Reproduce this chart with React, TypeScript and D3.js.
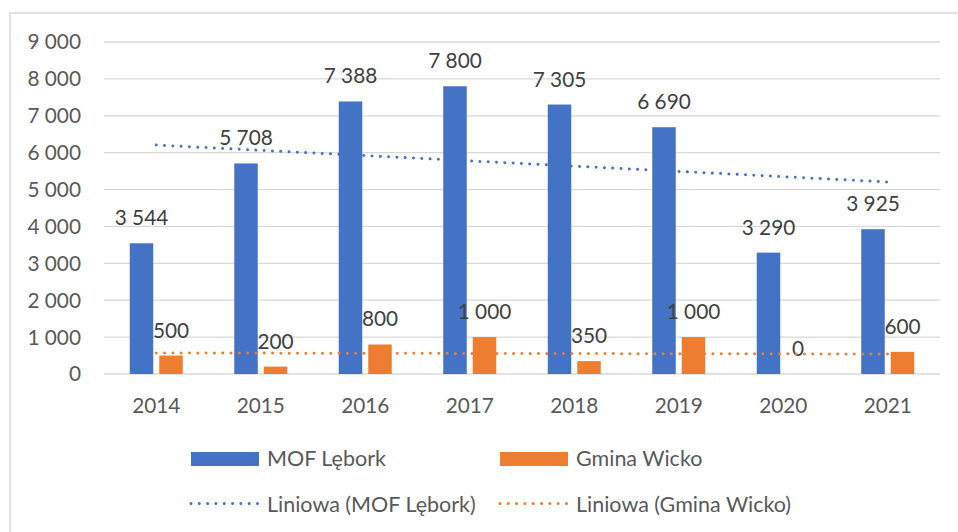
import React from "react";
import * as d3 from "d3";

const years = ["2014", "2015", "2016", "2017", "2018", "2019", "2020", "2021"];
const mofLebork = [3544, 5708, 7388, 7800, 7305, 6690, 3290, 3925];
const gminaWicko = [500, 200, 800, 1000, 350, 1000, 0, 600];
const yTicks = [0, 1000, 2000, 3000, 4000, 5000, 6000, 7000, 8000, 9000];
const seriesNames = ["MOF Lębork", "Gmina Wicko"];
const trendNames = ["Liniowa (MOF Lębork)", "Liniowa (Gmina Wicko)"];
const colors = ["#4472C4", "#ED7D31"];

const W = 958;
const H = 532;
const FONT = "Lato, 'Open Sans', sans-serif";

const fmt = (v: number) => {
  const s = String(Math.round(v));
  return s.replace(/\B(?=(\d{3})+(?!\d))/g, " ");
};

function linReg(vals: number[]) {
  const n = vals.length;
  const mx = (n - 1) / 2;
  const my = d3.mean(vals) as number;
  let sxy = 0;
  let sxx = 0;
  vals.forEach((v, i) => {
    sxy += (i - mx) * (v - my);
    sxx += (i - mx) * (i - mx);
  });
  const b = sxy / sxx;
  const a = my - b * mx;
  return (i: number) => a + b * i;
}

export default function App() {
  const left = 104;
  const right = 940;
  const top = 42;
  const bottom = 374;

  const x0 = d3.scaleBand<string>().domain(years).range([left, right]).padding(0);
  const bw = x0.bandwidth();
  const x1 = d3
    .scaleBand<string>()
    .domain(seriesNames)
    .range([bw / 2 - 26.5, bw / 2 + 26.5])
    .paddingInner(0.2034)
    .paddingOuter(0);
  const y = d3.scaleLinear().domain([0, 9000]).range([bottom, top]);

  const data = [mofLebork, gminaWicko];
  const line = d3
    .line<[number, number]>()
    .x((d) => d[0])
    .y((d) => d[1]);

  const trendLines = data.map((vals) => {
    const f = linReg(vals);
    const xs = [0, vals.length - 1];
    return xs.map((i) => [(x0(years[i]) as number) + bw / 2, y(f(i))] as [number, number]);
  });

  const dotStyle = {
    strokeWidth: 3,
    strokeDasharray: "0.01 8.3",
    strokeLinecap: "round" as const,
    fill: "none",
  };

  return (
    <svg
      width={W}
      height={H}
      style={{ position: "absolute", left: 0, top: 0, background: "#fff" }}
      fontFamily={FONT}
    >
      <rect x={0} y={0} width={W} height={H} fill="#fff" />
      <rect x={10} y={13} width={980} height={560} fill="none" stroke="#d9d9d9" strokeWidth={1.5} />

      {yTicks.map((t) => (
        <g key={t}>
          <line x1={left} x2={right} y1={y(t)} y2={y(t)} stroke="#d9d9d9" strokeWidth={1.3} />
          <text
            x={81}
            y={y(t)}
            dy="0.36em"
            textAnchor="end"
            fontSize={20.8}
            fill="#595959"
          >
            {fmt(t)}
          </text>
        </g>
      ))}

      {years.map((yr, i) => (
        <g key={yr} transform={`translate(${x0(yr)},0)`}>
          {data.map((vals, s) => {
            const bx = x1(seriesNames[s]) as number;
            const v = vals[i];
            return (
              <g key={s}>
                <rect
                  x={bx}
                  y={y(v)}
                  width={x1.bandwidth()}
                  height={bottom - y(v)}
                  fill={colors[s]}
                />
                <text
                  x={bx + x1.bandwidth() / 2}
                  y={y(v) - 18}
                  textAnchor="middle"
                  fontSize={20.8}
                  fill="#404040"
                >
                  {fmt(v)}
                </text>
              </g>
            );
          })}
          <text x={bw / 2} y={413} textAnchor="middle" fontSize={20.8} fill="#595959">
            {yr}
          </text>
        </g>
      ))}

      {trendLines.map((pts, s) => (
        <path key={s} d={line(pts) as string} stroke={colors[s]} style={dotStyle} />
      ))}

      {/* Legend */}
      {seriesNames.map((name, s) => {
        const lx = [191, 500][s];
        return (
          <g key={name}>
            <rect x={lx} y={452} width={68} height={14} fill={colors[s]} />
            <text x={lx + 76} y={466} fontSize={21.5} fill="#595959">
              {name}
            </text>
            <path
              d={`M${lx},503.5L${lx + 68},503.5`}
              stroke={colors[s]}
              style={dotStyle}
            />
            <text x={lx + 76} y={511.5} fontSize={21.5} fill="#595959">
              {trendNames[s]}
            </text>
          </g>
        );
      })}
    </svg>
  );
}
